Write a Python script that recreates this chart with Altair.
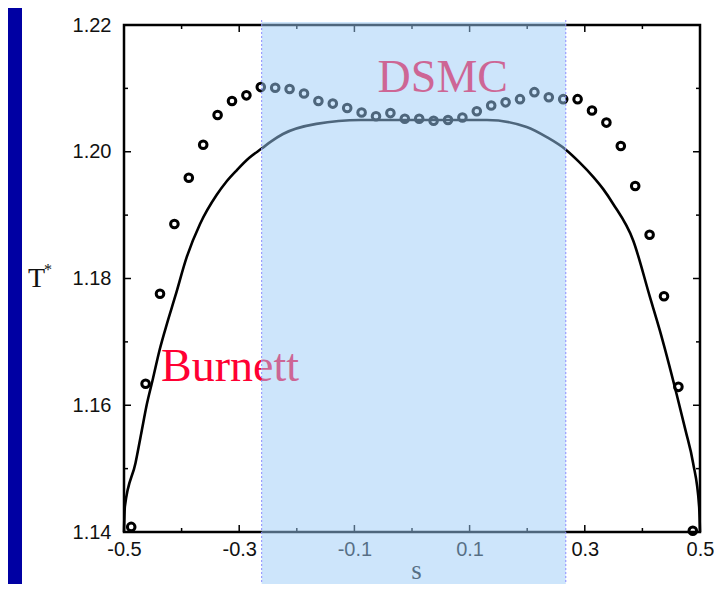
import altair as alt
import pandas as pd

# ---------------- data ----------------
# Burnett solution (solid black curve)
burnett_s = [-0.500, -0.4985, -0.480, -0.470, -0.460, -0.450, -0.438, -0.425,
             -0.411, -0.391, -0.368, -0.339, -0.322, -0.304, -0.283, -0.261, -0.245,
             -0.224, -0.166, -0.089,
             0.000, 0.130, 0.199, 0.234, 0.266, 0.290, 0.315, 0.332, 0.349, 0.384,
             0.413, 0.430, 0.459, 0.475, 0.488, 0.4985, 0.500]
burnett_T = [1.1400, 1.1440, 1.1509, 1.1556, 1.1603, 1.1641, 1.1688, 1.1730,
             1.1772, 1.1834, 1.1886, 1.1932, 1.1953, 1.1971, 1.1990, 1.2005, 1.2016,
             1.2028, 1.2044, 1.2050,
             1.2050, 1.2050, 1.2039, 1.2023, 1.2004, 1.1984, 1.1960, 1.1941, 1.1918,
             1.1860, 1.1771, 1.1719, 1.1619, 1.1560, 1.1509, 1.1440, 1.1400]

# DSMC results (open circles)
dsmc_s = [-0.4875, -0.4625, -0.4375, -0.4125, -0.3875, -0.3625, -0.3375, -0.3125,
          -0.2875, -0.2625, -0.2375, -0.2125, -0.1875, -0.1625, -0.1375, -0.1125,
          -0.0875, -0.0625, -0.0375, -0.0125, 0.0125, 0.0375, 0.0625, 0.0875,
          0.1125, 0.1375, 0.1625, 0.1875, 0.2125, 0.2375, 0.2625, 0.2875,
          0.3125, 0.3375, 0.3625, 0.3875, 0.4125, 0.4375, 0.4625, 0.4875]
dsmc_T = [1.1408, 1.1634, 1.1776, 1.1886, 1.1959, 1.2011, 1.2058, 1.2080,
          1.2089, 1.2102, 1.2101, 1.2099, 1.2092, 1.2080, 1.2076, 1.2069,
          1.2062, 1.2056, 1.2061, 1.2052, 1.2052, 1.2049, 1.2050, 1.2054,
          1.2064, 1.2073, 1.2078, 1.2083, 1.2094, 1.2086, 1.2083, 1.2083,
          1.2065, 1.2046, 1.2009, 1.1946, 1.1869, 1.1772, 1.1629, 1.1402]

# axis tick values
x_label_values = [-0.5, -0.3, -0.1, 0.1, 0.3, 0.5]
y_label_values = [1.14, 1.16, 1.18, 1.20, 1.22]
x_major = [-0.3, -0.1, 0.1, 0.3]
x_minor = [-0.4, -0.2, 0.0, 0.2, 0.4]
y_major = [1.16, 1.18, 1.20]
y_minor = [1.15, 1.17, 1.19, 1.21]

# highlighted band (s range)
band_s0 = [-0.261]
band_s1 = [0.267]

# annotations
label_text = ["Burnett", "DSMC"]
label_s = [-0.4356, -0.0597]
label_T = [1.1639, 1.2094]

# ---------------- chart ----------------
W, H = 576, 507
PAD = {"left": 116, "top": 17, "right": 14, "bottom": 52}

xs = alt.Scale(domain=[-0.5, 0.5], nice=False, zero=False)
ys = alt.Scale(domain=[1.14, 1.22], nice=False, zero=False)

xaxis = alt.Axis(
    values=x_label_values,
    labelExpr="replace(format(datum.value, '.1f'), '\u2212', '-')",
    grid=False, ticks=False, domain=False, labelFlush=False, labelOverlap=False,
    labelFont="Liberation Sans", labelFontSize=20, labelColor="#111111", labelPadding=7,
    title="s", titleFont="Liberation Serif", titleFontSize=27, titleFontWeight="normal",
    titleColor="#111111", titleX=292, titleY=46, titleAlign="center",
    titleBaseline="alphabetic",
)
yaxis = alt.Axis(
    values=y_label_values, format=".2f",
    grid=False, ticks=False, domain=False, labelFlush=False, labelOverlap=False,
    labelFont="Liberation Sans", labelFontSize=20, labelColor="#111111", labelPadding=13,
    title="T", titleFont="Liberation Serif", titleFontSize=28, titleFontWeight="normal",
    titleColor="#111111", titleAngle=0, titleX=-88, titleY=261, titleAlign="center",
    titleBaseline="alphabetic",
)


def X(field="s"):
    return alt.X(field, type="quantitative", scale=xs, axis=xaxis)


def Y(field="T"):
    return alt.Y(field, type="quantitative", scale=ys, axis=yaxis)


line_df = pd.DataFrame({"s": burnett_s, "T": burnett_T})
dsmc_df = pd.DataFrame({"s": dsmc_s, "T": dsmc_T})
lab_df = pd.DataFrame({"s": label_s, "T": label_T, "label": label_text})
band_df = pd.DataFrame({"s": band_s0, "s1": band_s1})
edge_df = pd.DataFrame({"s": band_s0 + band_s1})

# slide background strip at left
strip = alt.Chart(pd.DataFrame({"s": [0]})).mark_rect(color="#0000a3").encode(
    x=alt.value(-116), x2=alt.value(-102), y=alt.value(-17), y2=alt.value(H + 52)
)

line = alt.Chart(line_df).mark_line(
    color="black", strokeWidth=2.6, interpolate="monotone"
).encode(x=X(), y=Y())

points = alt.Chart(dsmc_df).mark_point(
    shape="circle", filled=False, color="black", strokeWidth=3, size=58, opacity=1
).encode(x=X(), y=Y())

labels = alt.Chart(lab_df).mark_text(
    font="Liberation Serif", fontSize=46, color="#ff0033", align="left",
    baseline="alphabetic"
).encode(x=X(), y=Y(), text="label:N")

star = alt.Chart(pd.DataFrame({"s": [0]})).mark_text(
    font="Liberation Serif", fontSize=16, color="#111111", align="center",
    baseline="alphabetic"
).encode(x=alt.value(-76), y=alt.value(250), text=alt.value("*"))


def xticks(vals, length, top):
    df = pd.DataFrame({"s": vals})
    if top:
        y0, y1 = 0, length
    else:
        y0, y1 = H, H - length
    return alt.Chart(df).mark_rule(color="black", strokeWidth=1.5).encode(
        x=X(), y=alt.value(y0), y2=alt.value(y1)
    )


def yticks(vals, length, right):
    df = pd.DataFrame({"T": vals})
    if right:
        x0, x1 = W, W - length
    else:
        x0, x1 = 0, length
    return alt.Chart(df).mark_rule(color="black", strokeWidth=1.5).encode(
        y=Y(), x=alt.value(x0), x2=alt.value(x1)
    )


tick_layers = [
    xticks(x_major, 7, False), xticks(x_minor, 4, False),
    xticks(x_major, 7, True), xticks(x_minor, 4, True),
    yticks(y_major, 7, False), yticks(y_minor, 4, False),
    yticks(y_major, 7, True), yticks(y_minor, 4, True),
]

band = alt.Chart(band_df).mark_rect(color="#9ccbf7", opacity=0.5).encode(
    x=X(), x2="s1", y=alt.value(-3), y2=alt.value(H + 60)
)

edges = alt.Chart(edge_df).mark_rule(
    color="#8c8cff", strokeWidth=1, strokeDash=[2, 2]
).encode(x=X(), y=alt.value(-5), y2=alt.value(H + 60))

chart = alt.layer(
    strip, line, points, labels, star, *tick_layers, band, edges
).properties(
    width=W, height=H, padding=PAD, autosize=alt.AutoSizeParams(type="none"),
    background="white",
).configure_view(stroke="black", strokeWidth=2.5)

chart.save("out.html", embed_options={"renderer": "svg", "actions": False})
